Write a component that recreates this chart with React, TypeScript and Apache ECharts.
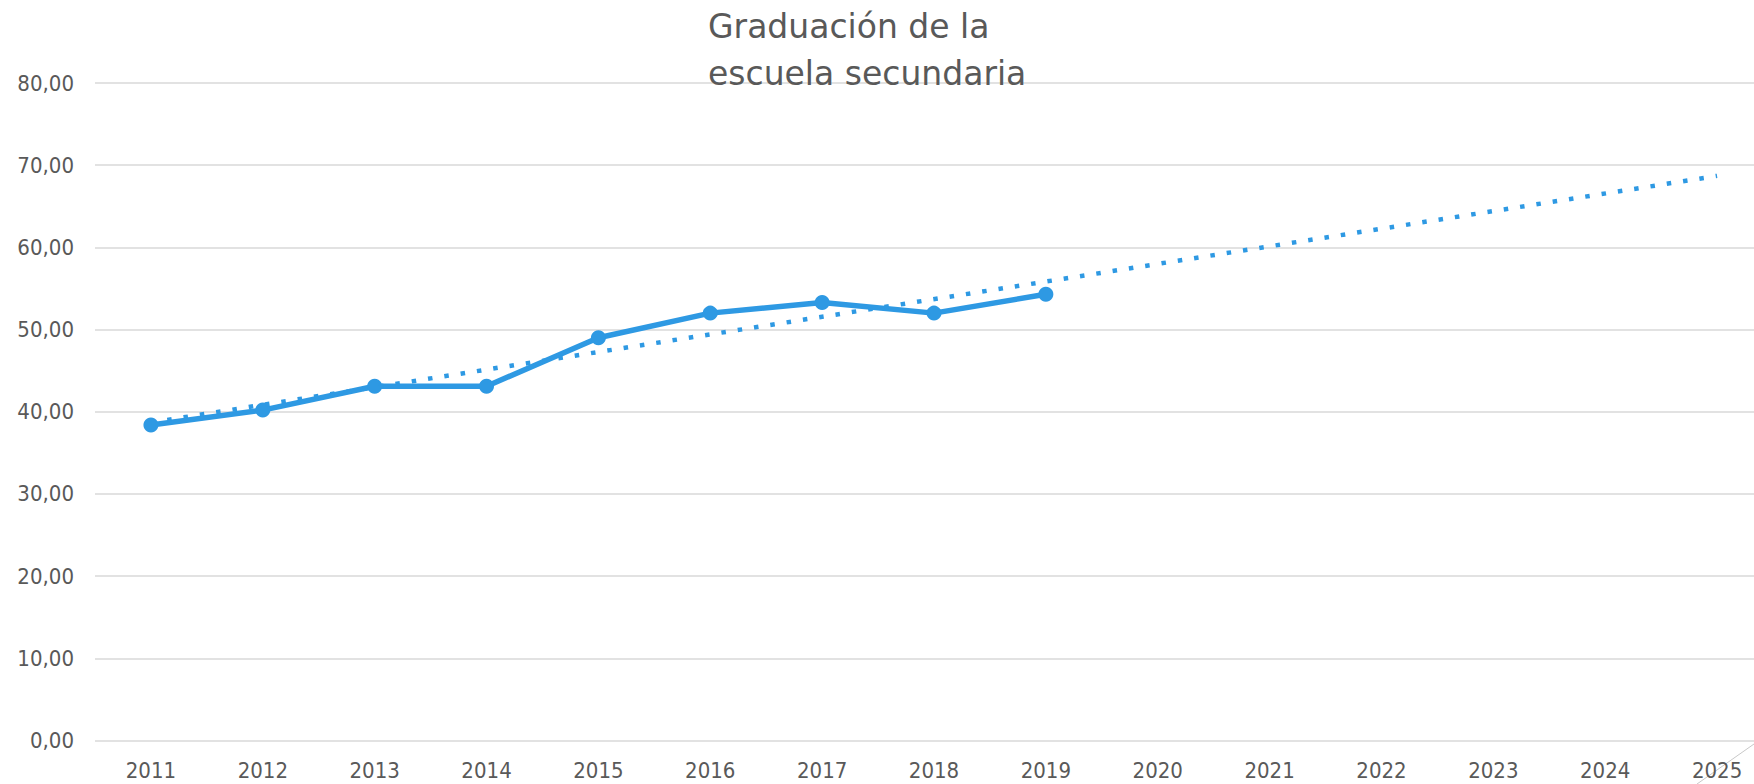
import React, { useEffect, useRef } from "react";
import * as echarts from "echarts";

const years = ["2011","2012","2013","2014","2015","2016","2017","2018","2019","2020","2021","2022","2023","2024","2025"];
const graduation = [38.4, 40.2, 43.1, 43.1, 49.0, 52.0, 53.3, 52.0, 54.3];
const trendStart = 38.7;
const trendEnd = 68.7;
const yTicks = [0, 10, 20, 30, 40, 50, 60, 70, 80];
const titleText = "Graduación de la\nescuela secundaria";

const FONT = "'DejaVu Sans Condensed', 'DejaVu Sans', sans-serif";
const TITLE_FONT = "'DejaVu Sans', sans-serif";
const BLUE = "#2E99E3";

export default function App() {
  const ref = useRef<HTMLDivElement>(null);
  useEffect(() => {
    document.body.style.margin = "0";
    const chart = echarts.init(ref.current!, null, { renderer: "svg" });
    const trend = years.map((_, i) => (i === 0 ? trendStart : i === years.length - 1 ? trendEnd : null));
    chart.setOption({
      animation: false,
      backgroundColor: "#fff",
      title: {
        text: titleText,
        left: 703,
        top: -2,
        textStyle: { fontFamily: TITLE_FONT, fontSize: 33, fontWeight: "normal", color: "#595959", lineHeight: 47 },
      },
      grid: { left: 95, width: 1678, top: 83, height: 657.5, containLabel: false },
      xAxis: {
        type: "category",
        data: years,
        boundaryGap: true,
        axisLine: { show: false },
        axisTick: { show: false },
        axisLabel: { fontFamily: FONT, fontSize: 22, color: "#595959", margin: 19 },
      },
      yAxis: {
        type: "value",
        min: yTicks[0],
        max: yTicks[yTicks.length - 1],
        interval: 10,
        axisLine: { show: false },
        axisTick: { show: false },
        splitLine: { lineStyle: { color: "#D9D9D9", width: 1.5 } },
        axisLabel: {
          fontFamily: FONT,
          fontSize: 22,
          color: "#595959",
          margin: 21,
          formatter: (v: number) => v.toFixed(2).replace(".", ","),
        },
      },
      series: [
        {
          type: "line",
          data: graduation,
          symbol: "circle",
          symbolSize: 15,
          lineStyle: { color: BLUE, width: 5.5 },
          itemStyle: { color: BLUE },
          z: 2,
        },
        {
          type: "line",
          data: trend,
          connectNulls: true,
          symbol: "none",
          lineStyle: { color: BLUE, width: 4.5, type: [4.5, 12], cap: "butt" },
          z: 3,
        },
      ],
      graphic: [
        { type: "line", shape: { x1: 1754, y1: 744, x2: 1697, y2: 784 }, style: { stroke: "#C8C8C8", lineWidth: 1 } },
      ],
    });
    return () => chart.dispose();
  }, []);
  return (
    <div style={{ width: 1754, height: 784, overflow: "hidden", position: "relative" }}>
      <div ref={ref} style={{ width: 1800, height: 784 }} />
    </div>
  );
}
